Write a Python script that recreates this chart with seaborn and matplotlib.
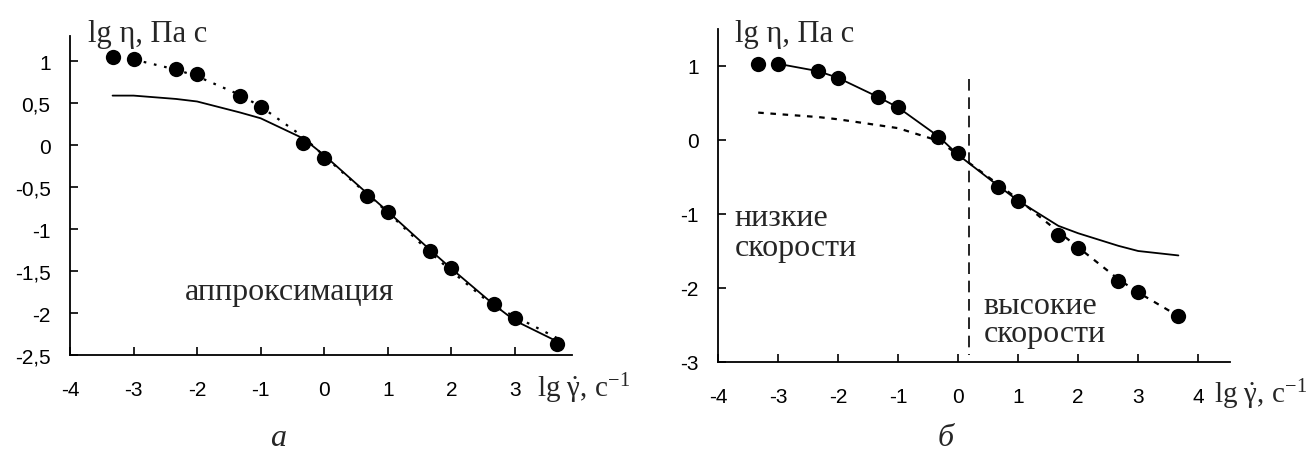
import matplotlib
matplotlib.use("Agg")
import matplotlib.pyplot as plt
import seaborn as sns

# ---------------- data ----------------
lg_rate = [-3.33, -3.0, -2.33, -2.0, -1.33, -1.0, -0.33, 0.0, 0.67, 1.0, 1.67, 2.0, 2.67, 3.0, 3.67]

# panel a
a_points = [1.05, 1.03, 0.91, 0.85, 0.58, 0.45, 0.03, -0.15, -0.60, -0.80, -1.26, -1.46, -1.89, -2.06, -2.37]
a_solid = [0.59, 0.59, 0.55, 0.52, 0.39, 0.32, 0.08, -0.12, -0.57, -0.79, -1.25, -1.47, -1.90, -2.09, -2.34]
a_dotted_x = lg_rate[1:]
a_dotted = [1.02, 0.90, 0.82, 0.60, 0.46, 0.10, -0.13, -0.58, -0.80, -1.28, -1.50, -1.92, -2.04, -2.30]

# panel б
b_points = [1.03, 1.03, 0.93, 0.84, 0.58, 0.44, 0.045, -0.18, -0.64, -0.82, -1.28, -1.46, -1.90, -2.06, -2.38]
b_solid_x = lg_rate[1:]
b_solid = [1.03, 0.93, 0.84, 0.58, 0.44, 0.05, -0.20, -0.62, -0.82, -1.16, -1.26, -1.43, -1.50, -1.56]
b_dotted = [0.37, 0.35, 0.31, 0.28, 0.20, 0.16, -0.01, -0.20, -0.60, -0.80, -1.24, -1.45, -1.88, -2.06, -2.38]
b_boundary_x = 0.18
b_boundary_y = [0.83, -2.91]

a_yticks = [1, 0.5, 0, -0.5, -1, -1.5, -2, -2.5]
a_yticklabels = ["1", "0,5", "0", "-0,5", "-1", "-1,5", "-2", "-2,5"]
a_xticks = [-4, -3, -2, -1, 0, 1, 2, 3]
b_yticks = [1, 0, -1, -2, -3]
b_yticklabels = ["1", "0", "-1", "-2", "-3"]
b_xticks = [-4, -3, -2, -1, 0, 1, 2, 3, 4]

ylabel_text = "lg η, Па с"
xlabel_text = r"lg $\dot{\mathrm{\gamma}}$, c$^{-1}$"

# ---------------- style ----------------
sns.set_theme(style="white")
plt.rcParams["font.family"] = ["Liberation Sans", "DejaVu Sans"]
plt.rcParams["mathtext.fontset"] = "custom"
plt.rcParams["mathtext.rm"] = "Liberation Serif"
plt.rcParams["mathtext.it"] = "Liberation Serif:italic"

SERIF = ["Liberation Serif", "DejaVu Serif"]
SERIF_SIZE = 23
YLAB_SIZE = 22
XLAB_SIZE = 21
TICK_SIZE = 15
LW = 1.3

W, H = 1311, 452
fig = plt.figure(figsize=(W / 100, H / 100), dpi=100)

axA = fig.add_axes([70 / W, 1 - 356 / H, (572 - 70) / W, (356 - 37) / H])
axB = fig.add_axes([718 / W, 1 - 363 / H, (1230 - 718) / W, (363 - 30) / H])


def style_axis(ax, xlim, ylim, xticks, yticks, yticklabels):
    ax.set_xlim(*xlim)
    ax.set_ylim(*ylim)
    for s in ["top", "right"]:
        ax.spines[s].set_visible(False)
    for s in ["left", "bottom"]:
        ax.spines[s].set_color("black")
        ax.spines[s].set_linewidth(1.3)
    ax.set_xticks(xticks)
    ax.set_xticklabels([str(t) for t in xticks])
    ax.set_yticks(yticks)
    ax.set_yticklabels(yticklabels)
    ax.tick_params(axis="both", direction="in", length=6, width=1.2, colors="black",
                   labelsize=TICK_SIZE, left=True, bottom=True)
    ax.tick_params(axis="x", pad=18)
    ax.tick_params(axis="y", pad=14)
    ax.set_xlabel("")
    ax.set_ylabel("")
    ax.grid(False)
    ax.set_facecolor("none")


# ---- panel a ----
sns.lineplot(x=lg_rate, y=a_solid, ax=axA, color="black", linewidth=LW,
             sort=False, estimator=None)
sns.lineplot(x=a_dotted_x, y=a_dotted, ax=axA, color="black", linewidth=1.6,
             linestyle=(0, (1.2, 3.5)), sort=False, estimator=None)
sns.scatterplot(x=lg_rate, y=a_points, ax=axA, color="black", s=11 ** 2,
                edgecolor="black", linewidth=0, zorder=4)
style_axis(axA, (-4, 3.9), (-2.5, 1.30), a_xticks, a_yticks, a_yticklabels)
axA.text(-3.71, 1.24, ylabel_text, family=SERIF, fontsize=YLAB_SIZE, va="baseline", ha="left")
axA.text(3.35, -2.99, xlabel_text, family=SERIF, fontsize=XLAB_SIZE, va="baseline", ha="left")
axA.text(-2.2, -1.83, "аппроксимация", family=SERIF, fontsize=SERIF_SIZE, va="baseline", ha="left")

# ---- panel б ----
sns.lineplot(x=b_solid_x, y=b_solid, ax=axB, color="black", linewidth=LW,
             sort=False, estimator=None)
sns.lineplot(x=lg_rate, y=b_dotted, ax=axB, color="black", linewidth=1.6,
             linestyle=(0, (2.5, 3)), sort=False, estimator=None)
sns.lineplot(x=[b_boundary_x, b_boundary_x], y=b_boundary_y, ax=axB, color="black",
             linewidth=1.2, linestyle=(0, (7, 4)), sort=False, estimator=None)
sns.scatterplot(x=lg_rate, y=b_points, ax=axB, color="black", s=11 ** 2,
                edgecolor="black", linewidth=0, zorder=4)
style_axis(axB, (-4, 4.53), (-3, 1.5), b_xticks, b_yticks, b_yticklabels)
axB.text(-3.72, 1.34, ylabel_text, family=SERIF, fontsize=YLAB_SIZE, va="baseline", ha="left")
axB.text(4.26, -3.54, xlabel_text, family=SERIF, fontsize=XLAB_SIZE, va="baseline", ha="left")
axB.text(-3.72, -1.15, "низкие", family=SERIF, fontsize=SERIF_SIZE, va="baseline", ha="left")
axB.text(-3.72, -1.55, "скорости", family=SERIF, fontsize=SERIF_SIZE, va="baseline", ha="left")
axB.text(0.42, -2.34, "высокие", family=SERIF, fontsize=SERIF_SIZE, va="baseline", ha="left")
axB.text(0.42, -2.72, "скорости", family=SERIF, fontsize=SERIF_SIZE, va="baseline", ha="left")

# panel letters
fig.text(278 / W, 6 / H, "а", family=SERIF, style="italic", fontsize=SERIF_SIZE,
         ha="center", va="baseline")
fig.text(946 / W, 6 / H, "б", family=SERIF, style="italic", fontsize=SERIF_SIZE,
         ha="center", va="baseline")

fig.savefig("out.png", dpi=100, facecolor="white")
